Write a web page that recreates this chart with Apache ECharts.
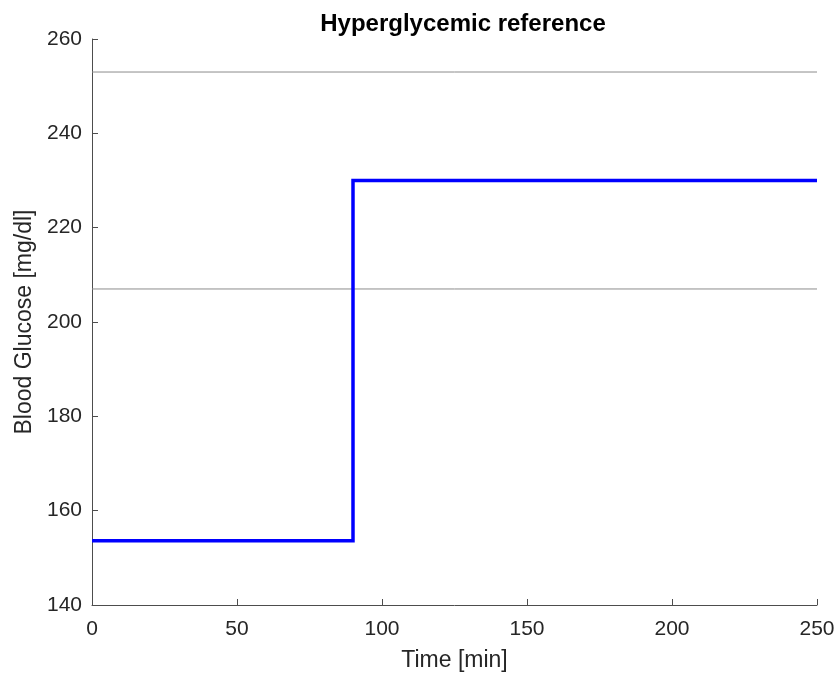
<!DOCTYPE html>
<html>
<head>
<meta charset="utf-8">
<script src="https://cdn.jsdelivr.net/npm/echarts@6/dist/echarts.min.js"></script>
<style>html,body{margin:0;padding:0;background:#fff;}#c{width:840px;height:677px;}</style>
</head>
<body>
<div id="c"></div>
<script>
var timeMin = [0, 90, 90, 250];
var glucose = [153.6, 153.6, 230, 230];
var bandTime = [0, 250];
var upperBound = [253, 253];
var lowerBound = [207, 207];
var xTicks = [0, 50, 100, 150, 200, 250];
var yTicks = [140, 160, 180, 200, 220, 240, 260];

function pairs(xs, ys) { return xs.map(function (x, i) { return [x, ys[i]]; }); }

var chart = echarts.init(document.getElementById('c'));
var font = 'Liberation Sans, Arial, Helvetica, sans-serif';
chart.setOption({
  animation: false,
  backgroundColor: '#fff',
  title: {
    text: 'Hyperglycemic reference',
    left: 458, top: 7, textAlign: 'center',
    textStyle: { fontFamily: font, fontSize: 24, fontWeight: 'bold', color: '#000' }
  },
  grid: { left: 92, right: 23, top: 39, bottom: 70, containLabel: false },
  xAxis: {
    type: 'value', min: 0, max: 250, interval: 50,
    name: 'Time [min]', nameLocation: 'middle', nameGap: 44,
    nameTextStyle: { fontFamily: font, fontSize: 23, color: '#262626' },
    axisLine: { show: true, lineStyle: { color: '#4d4d4d', width: 1 } },
    axisTick: { show: true, inside: true, length: 6, lineStyle: { color: '#4d4d4d' } },
    axisLabel: { fontFamily: font, fontSize: 21, color: '#262626', margin: 14 },
    splitLine: { show: false }
  },
  yAxis: {
    type: 'value', min: 140, max: 260, interval: 20,
    name: 'Blood Glucose [mg/dl]', nameLocation: 'middle', nameGap: 56, nameRotate: 90,
    nameTextStyle: { fontFamily: font, fontSize: 23, color: '#262626' },
    axisLine: { show: true, lineStyle: { color: '#4d4d4d', width: 1 } },
    axisTick: { show: true, inside: true, length: 6, lineStyle: { color: '#4d4d4d' } },
    axisLabel: { fontFamily: font, fontSize: 21, color: '#262626', margin: 10 },
    splitLine: { show: false }
  },
  series: [
    { type: 'line', data: pairs(bandTime, upperBound), symbol: 'none',
      lineStyle: { color: '#8c8c8c', width: 1 }, z: 2 },
    { type: 'line', data: pairs(bandTime, lowerBound), symbol: 'none',
      lineStyle: { color: '#8c8c8c', width: 1 }, z: 2 },
    { type: 'line', data: pairs(timeMin, glucose), symbol: 'none',
      lineStyle: { color: '#0000ff', width: 3.5, join: 'miter' }, z: 3 }
  ]
});
</script>
</body>
</html>
